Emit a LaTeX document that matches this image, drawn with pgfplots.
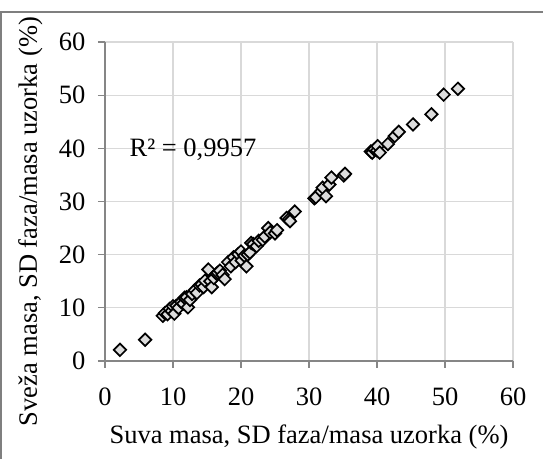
\documentclass[border=0pt]{standalone}
\usepackage{pgfplots}
\pgfplotsset{compat=1.18}
\usepackage{fontspec}
\setmainfont{Liberation Serif}

\definecolor{axisgray}{HTML}{868686}
\definecolor{gridgray}{HTML}{D9D9D9}
\definecolor{framegray}{HTML}{7F7F7F}
\definecolor{markfill}{HTML}{DCDCDC}

\pgfplotstableread{
x y
2.2 2.1
5.9 4.0
8.5 8.5
8.8 9.0
9.2 8.8
9.5 9.8
9.8 9.4
10.0 10.3
10.2 8.9
10.5 10.4
10.8 10.0
11.2 11.1
11.5 10.8
11.7 11.9
12.0 12.0
12.2 10.1
12.5 11.5
12.8 12.6
13.2 13.3
13.5 12.8
13.9 14.2
14.2 14.4
14.5 13.9
14.7 15.1
15.2 17.2
15.5 15.0
15.7 13.9
16.0 15.6
16.4 16.4
16.6 16.6
16.9 17.0
17.3 16.2
17.6 15.4
18.1 18.6
18.5 17.8
18.9 19.5
19.2 18.6
19.6 20.1
20.0 20.6
20.1 18.9
20.5 19.8
20.8 17.8
21.0 20.0
21.3 20.4
21.5 22.2
21.8 22.0
22.3 21.6
22.6 22.6
23.2 22.8
23.5 23.4
24.0 25.0
24.3 24.2
25.0 24.0
25.3 24.6
26.7 26.9
27.0 26.6
27.2 26.3
27.9 28.1
30.8 30.6
31.0 30.8
31.8 31.9
32.0 32.6
32.5 31.0
33.0 33.2
33.3 34.5
35.1 34.9
35.3 35.2
39.1 39.4
39.3 39.2
39.6 39.8
40.0 39.6
40.1 40.4
40.4 39.2
41.6 40.8
42.6 42.3
43.2 43.1
45.3 44.5
48.0 46.4
49.8 50.1
51.9 51.2
}\masa

\begin{document}
\begin{tikzpicture}[x=1bp,y=1bp]
\useasboundingbox (-105,-98) rectangle (438,361);
% chart area border (left and top only visible)
\draw[framegray, line width=2bp] (-103.5,-98) -- (-103.5,349) -- (438,349);

\begin{axis}[
  at={(0,0)}, anchor=south west,
  scale only axis,
  width=408bp, height=319bp,
  xmin=0, xmax=60, ymin=0, ymax=60,
  xtick={0,10,...,60}, ytick={0,10,...,60},
  axis lines=left,
  axis line style={-, axisgray, line width=1.3bp},
  grid=major,
  major grid style={gridgray, line width=1.3bp},
  tick align=outside,
  major tick length=7bp,
  tick style={axisgray, line width=1.3bp},
  tick label style={font=\fontsize{26.5bp}{31bp}\selectfont},
  /pgf/number format/assume math mode=true,
  xticklabel style={yshift=-16bp},
  yticklabel style={xshift=-9bp},
  label style={font=\fontsize{26.5bp}{31bp}\selectfont},
  xlabel={Suva masa, SD faza/masa uzorka (\%)},
  ylabel={Sveža masa, SD faza/masa uzorka (\%)},
  xlabel style={at={(axis description cs:0.5,-0.260)}, anchor=base},
  ylabel style={at={(axis description cs:-0.1667,0.437)}, anchor=base, rotate=0},
]
\addplot[only marks, mark=square*, mark size=4.4bp,
  mark options={rotate=45, fill=markfill, draw=black, line width=1.7bp}]
  table[x=x, y=y] {\masa};
\node[anchor=base west, font=\fontsize{26.5bp}{31bp}\selectfont]
  at (axis cs:3.1,38.4) {R² = 0,9957};
\end{axis}
\end{tikzpicture}
\end{document}
